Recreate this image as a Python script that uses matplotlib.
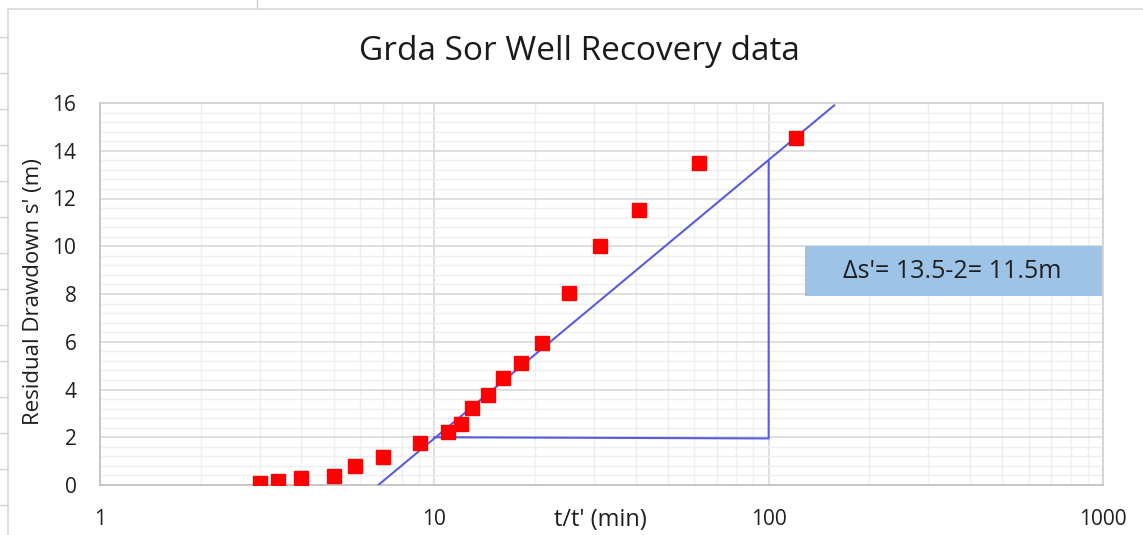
import matplotlib
matplotlib.use("Agg")
import matplotlib.pyplot as plt
from matplotlib.patches import Rectangle
from matplotlib.lines import Line2D
from matplotlib.ticker import LogLocator, MultipleLocator, FixedLocator, NullFormatter

plt.rcParams['font.family'] = ['Open Sans', 'DejaVu Sans']

# Data
t_ratio = [3.0, 3.4, 4.0, 5.0, 5.8, 7.0, 9.05, 11.0, 12.0, 13.0, 14.5, 16.1, 18.2, 21.0, 25.2, 31.2, 41.0, 61.7, 120.5]
residual = [0.08, 0.17, 0.29, 0.38, 0.8, 1.17, 1.76, 2.22, 2.56, 3.23, 3.77, 4.48, 5.11, 5.95, 8.05, 10.0, 11.5, 13.5, 14.54]

fit_x = [6.8, 157]
fit_y = [0.0, 15.9]
tri_x = [10, 100, 100]
tri_y = [2.0, 1.95, 13.55]

xtick_vals = [1, 10, 100, 1000]
xtick_labels = ['1', '10', '100', '1000']
ytick_vals = [0, 2, 4, 6, 8, 10, 12, 14, 16]

title = "Grda Sor Well Recovery data"
xlabel = "t/t' (min)"
ylabel = "Residual Drawdown s' (m)"
annot = "\u0394s'= 13.5-2= 11.5m"

W, H = 1143, 535
fig = plt.figure(figsize=(W / 100, H / 100), dpi=100)
ax = fig.add_axes([100 / W, (H - 485) / H, (1103 - 100) / W, (485 - 103) / H])

ax.set_xscale('log')
ax.set_xlim(1, 1000)
ax.set_ylim(0, 16)

ax.xaxis.set_major_locator(FixedLocator(xtick_vals))
ax.set_xticklabels(xtick_labels)
ax.xaxis.set_minor_locator(LogLocator(base=10, subs=range(2, 10)))
ax.xaxis.set_minor_formatter(NullFormatter())
ax.yaxis.set_major_locator(FixedLocator(ytick_vals))
ax.yaxis.set_minor_locator(MultipleLocator(0.4))

ax.grid(which='major', color='#D9D9D9', linewidth=1.2)
ax.grid(which='minor', color='#EFEFEF', linewidth=1.0)
ax.set_axisbelow(True)

ax.tick_params(which='both', length=0)
ax.tick_params(axis='x', pad=17, labelsize=15, labelcolor='#1f1f1f')
ax.tick_params(axis='y', pad=17, labelsize=15, labelcolor='#1f1f1f')

for s in ax.spines.values():
    s.set_color('#D0D0D0')
    s.set_linewidth(1.2)
ax.spines['left'].set_color('#BFBFBF')
ax.spines['bottom'].set_color('#BFBFBF')

line_col = '#5B5BE0'
ax.plot(fit_x, fit_y, color=line_col, linewidth=1.5, zorder=3)
ax.plot(tri_x, tri_y, color=line_col, linewidth=1.5, zorder=3)

ax.plot(t_ratio, residual, linestyle='none', marker='s', markersize=10,
        color='#FF0000', markeredgecolor='#FF0000', zorder=4)

# annotation box
bx0, bx1 = 805 / W, 1102 / W
by0, by1 = (H - 296) / H, (H - 246) / H
fig.patches.append(Rectangle((bx0, by0), bx1 - bx0, by1 - by0, transform=fig.transFigure,
                             facecolor='#9DC3E6', edgecolor='none', zorder=5))
fig.text(952 / W, (H - 272) / H, annot, ha='center', va='center', fontsize=18,
         color='#1f1f1f', zorder=6)

fig.text(579 / W, (H - 51) / H, title, ha='center', va='center', fontsize=24, color='#1a1a1a')
fig.text(600 / W, (H - 520) / H, xlabel, ha='center', va='center', fontsize=17, color='#1f1f1f')
fig.text(34 / W, (H - 292) / H, ylabel, ha='center', va='center', rotation=90,
         fontsize=16, color='#1f1f1f')

# outer chart border and spreadsheet edge ticks
fig.patches.append(Rectangle((8 / W, -0.05), 1.1, (H - 9) / H + 0.05, transform=fig.transFigure,
                             facecolor='none', edgecolor='#D9D9D9', linewidth=1.2, zorder=0))
for i in range(15):
    yy = (H - (37 + 36 * i)) / H
    fig.lines.append(Line2D([0, 7 / W], [yy, yy], transform=fig.transFigure,
                            color='#D0D0D0', linewidth=1.0))
fig.lines.append(Line2D([257 / W, 257 / W], [1.0, (H - 7) / H], transform=fig.transFigure,
                        color='#D0D0D0', linewidth=1.0))

fig.savefig('out.png', dpi=100)
